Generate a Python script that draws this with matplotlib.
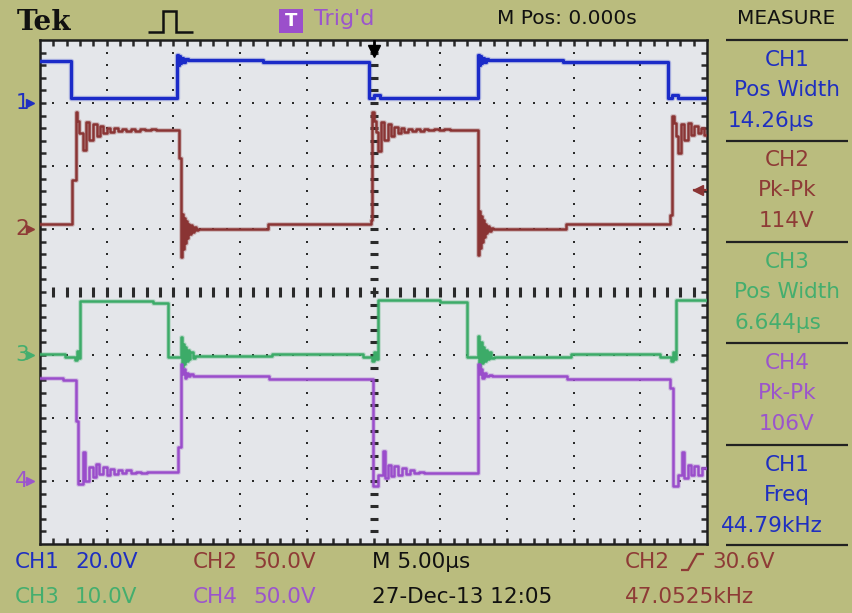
import numpy as np
import matplotlib
matplotlib.use("Agg")
import matplotlib.pyplot as plt
from matplotlib.lines import Line2D
from matplotlib.patches import Rectangle

# ---------------- data (time in µs, amplitude in V) ----------------
time_per_div = 5.0
ch_scale = {"CH1": 20.0, "CH2": 50.0, "CH3": 10.0, "CH4": 50.0}     # V/div
ch_ground_div = {"CH1": 7.0, "CH2": 5.0, "CH3": 3.0, "CH4": 1.0}   # ground marker position (div)

ch1_t = [-25.0, -22.7, -14.72, -14.64, -14.56, -14.48, -14.4, -14.3, -14.15, -13.9, -8.3,
         -0.35, 0.05, 0.5, 7.84, 7.92, 8.0, 8.08, 8.16, 8.26, 8.4, 8.6, 14.2, 22.1, 22.4, 22.8, 25.0]
ch1_v = [13.3, 1.7, 15.3, 12.2, 14.8, 12.6, 14.2, 12.9, 13.9, 13.6, 13.0,
         1.7, 2.5, 1.7, 15.3, 12.2, 14.8, 12.6, 14.2, 12.9, 13.9, 13.6, 12.9, 1.7, 2.5, 1.7, 1.7]

ch2_t = [-25.0, -22.6, -22.3, -22.2, -22.05, -21.8, -21.55, -21.3, -21.0, -20.75, -20.5, -20.25,
         -20.0, -19.75, -19.45, -19.15, -18.85, -18.55, -18.2, -17.85, -17.5, -17.1, -16.7, -16.3,
         -15.9, -14.55, -14.4, -14.33, -14.26, -14.19, -14.12, -14.05, -13.97, -13.89, -13.8,
         -13.7, -13.58, -13.45, -13.3, -13.15, -7.9,
         -0.2, -0.08, 0.02, 0.15, 0.35, 0.55, 0.8, 1.05, 1.3, 1.55, 1.8, 2.05, 2.3, 2.6, 2.9, 3.2,
         3.5, 3.8, 4.1, 4.5, 4.9, 5.3, 5.7, 7.84, 7.91, 7.98, 8.05, 8.12, 8.19, 8.27, 8.35, 8.44,
         8.54, 8.66, 8.8, 8.95, 14.4,
         22.2, 22.38, 22.5, 22.65, 22.85, 23.05, 23.3, 23.55, 23.8, 24.05, 24.3, 24.55, 24.8, 25.0]
ch2_v = [4.0, 38.9, 93.0, 86.0, 76.0, 62.5, 85.0, 71.0, 83.5, 74.0, 81.5, 76.0,
         80.5, 77.0, 80.0, 77.5, 79.5, 77.8, 79.5, 78.0, 79.3, 78.2, 79.0, 78.4,
         78.8, 56.0, -22.0, 12.0, -16.0, 9.0, -11.0, 6.0, -7.0, 4.0, -4.0,
         3.0, -2.0, 1.5, -0.5, 0.3, 4.0,
         7.0, 93.0, 86.0, 77.0, 62.0, 85.0, 71.0, 83.0, 74.0, 81.0, 76.0, 80.0, 77.0, 79.5, 77.5, 79.5,
         78.0, 79.5, 78.5, 79.3, 78.4, 79.2, 78.6, -21.0, 14.0, -15.0, 10.0, -10.0, 7.0, -6.0, 4.0, -3.5,
         2.5, -1.5, 1.0, 0.0, 4.0,
         11.0, 90.0, 84.0, 74.0, 60.0, 83.0, 71.0, 84.0, 75.0, 82.0, 76.0, 80.0, 75.0, 75.0]

ch3_t = [-25.0, -23.1, -22.4, -22.25, -22.1, -22.0, -16.5, -15.4, -14.45, -14.36, -14.28, -14.2,
         -14.12, -14.03, -13.94, -13.84, -13.72, -13.55, -13.35, -7.6,
         -0.8, -0.1, 0.05, 0.2, 0.34, 5.0, 7.0, 7.84, 7.93, 8.02, 8.11, 8.2, 8.3, 8.4, 8.52,
         8.65, 8.8, 9.0, 14.8, 21.5, 22.3, 22.45, 22.55, 22.7, 25.0]
ch3_v = [0.2, -0.3, -0.8, 0.6, -0.5, 8.6, 8.3, -0.3, 2.8, -1.9, 1.8, -1.4,
         1.2, -1.0, 0.8, -0.7, 0.4, -0.5, -0.2, 0.16,
         -0.3, -0.9, 0.5, -0.6, 8.7, 8.4, -0.3, 3.0, -1.9, 2.0, -1.3, 1.3, -0.9, 0.8, -0.6,
         0.4, -0.4, -0.3, 0.16, -0.3, -0.9, 0.5, -0.6, 8.7, 8.7]

ch4_t = [-25.0, -23.3, -22.3, -22.15, -21.8, -21.6, -21.35, -21.05, -20.8, -20.55, -20.3, -20.0,
         -19.75, -19.45, -19.15, -18.85, -18.55, -18.2, -17.8, -17.4, -17.0, -14.65, -14.45,
         -14.35, -14.25, -14.15, -14.05, -13.9, -13.75, -13.55, -7.8,
         -0.05, 0.3, 0.7, 0.85, 1.05, 1.3, 1.55, 1.8, 2.1, 2.4, 2.7, 3.0, 3.4, 3.8,
         7.85, 7.95, 8.05, 8.15, 8.3, 8.45, 8.65, 8.9, 14.5, 22.25, 22.45, 22.85, 23.15, 23.3,
         23.55, 23.8, 24.05, 24.3, 24.6, 25.0]
ch4_v = [81.8, 80.2, 47.6, -2.4, 23.0, 0.0, 11.0, 3.0, 13.5, 5.5, 11.0, 4.8,
         9.5, 5.5, 9.0, 6.0, 8.5, 6.5, 7.5, 6.5, 7.1, 27.0, 92.9,
         85.0, 89.0, 82.0, 86.0, 83.0, 85.0, 83.4, 81.0,
         -4.0, 5.0, 24.0, 2.0, 13.0, 4.0, 12.0, 5.0, 10.0, 5.5, 8.5, 6.0, 7.5, 6.3,
         93.0, 85.0, 89.0, 82.0, 86.0, 83.0, 84.5, 83.4, 80.8, 74.0, -4.0, 5.0, 23.0, 2.0,
         13.0, 5.0, 12.0, 5.0, 10.0, 10.0]

trigger_level_ch2 = 30.6  # V

header_texts = ["Tek", "Trig'd", "M Pos: 0.000s", "MEASURE"]
measure_labels = [("CH1", "Pos Width", "14.26µs"), ("CH2", "Pk-Pk", "114V"),
                  ("CH3", "Pos Width", "6.644µs"), ("CH4", "Pk-Pk", "106V"),
                  ("CH1", "Freq", "44.79kHz")]
scale_labels = [("CH1", "20.0V"), ("CH2", "50.0V"), ("CH3", "10.0V"), ("CH4", "50.0V")]
timebase_label = "M 5.00µs"
date_label = "27-Dec-13 12:05"
trig_source_label = ("CH2", "30.6V")
trig_freq_label = "47.0525kHz"

# ---------------- style ----------------
W, H = 852, 613
BG = "#babc7e"
SCREEN = "#e4e6ea"
C = {"CH1": "#1b2bc8", "CH2": "#8a3434", "CH3": "#3cab68", "CH4": "#9a4dcb"}
TXT_C = {"CH1": "#1f2fc0", "CH2": "#8e3b36", "CH3": "#44ae6e", "CH4": "#9b55cc"}
plt.rcParams['font.family'] = ['DejaVu Sans']

fig = plt.figure(figsize=(W / 100, H / 100), dpi=100)
fig.patch.set_facecolor(BG)


def fxy(x, y):
    return x / W, 1 - y / H


def ftext(x, y, s, color, size=15.5, ha="left", **kw):
    fig.text(x / W, 1 - y / H, s, color=color, fontsize=size, ha=ha, va="center", **kw)


def fline(xs, ys, color, lw=1.8):
    fig.add_artist(Line2D([x / W for x in xs], [1 - y / H for y in ys],
                          transform=fig.transFigure, color=color, lw=lw,
                          solid_capstyle="butt", solid_joinstyle="miter"))


L, R, T, B = 40, 707, 40, 544
ax = fig.add_axes([L / W, 1 - B / H, (R - L) / W, (B - T) / H])
ax.set_facecolor(SCREEN)
ax.set_xlim(-5 * time_per_div, 5 * time_per_div)
ax.set_ylim(0, 8)
ax.set_xticks([])
ax.set_yticks([])
for s in ax.spines.values():
    s.set_color("#1e1e1e")
    s.set_linewidth(1.8)

dot_c = "#2a2a2a"
xdots = np.arange(-24, 25, 1.0)
ydots = np.arange(0.2, 8, 0.2)
for k in range(1, 10):
    xg = -25 + 5 * k
    if k == 5:
        ax.plot(np.full_like(ydots, xg), ydots, ls="none", marker="_", ms=5.5, mew=2.2, color=dot_c, zorder=1)
    else:
        ax.plot(np.full_like(ydots, xg), ydots, ls="none", marker="s", ms=2.0, mew=0, color=dot_c, zorder=1)
for j in range(1, 8):
    if j == 4:
        ax.plot(xdots, np.full_like(xdots, j), ls="none", marker="|", ms=6.5, mew=2.2, color=dot_c, zorder=1)
    else:
        ax.plot(xdots, np.full_like(xdots, j), ls="none", marker="s", ms=2.0, mew=0, color=dot_c, zorder=1)
# border ticks
for xe in (-25, 25):
    ax.plot(np.full_like(ydots, xe), ydots, ls="none", marker="_", ms=9, mew=1.8, color=dot_c, zorder=1)
for ye in (0, 8):
    ax.plot(xdots, np.full_like(xdots, ye), ls="none", marker="|", ms=9, mew=1.8, color=dot_c, zorder=1)

# traces
traces = [("CH1", ch1_t, ch1_v), ("CH2", ch2_t, ch2_v), ("CH3", ch3_t, ch3_v), ("CH4", ch4_t, ch4_v)]
for name, t, v in traces:
    y = ch_ground_div[name] + np.asarray(v) / ch_scale[name]
    lw = 2.3 if name == "CH1" else 1.8
    ax.plot(t, y, drawstyle="steps-post", color=C[name], lw=lw + 1.6, alpha=0.25, zorder=3)
    ax.plot(t, y, drawstyle="steps-post", color=C[name], lw=lw, zorder=4)

# trigger level marker (CH2) at right edge
ytr = ch_ground_div["CH2"] + trigger_level_ch2 / ch_scale["CH2"]
ax.plot([24.0, 25.0], [ytr, ytr], color=C["CH2"], lw=1.6, zorder=5)
ax.plot([24.35], [ytr], marker="<", ms=7, color=C["CH2"], zorder=5)
# trigger position marker at top center
ax.plot([0, 0], [8.0, 7.85], color="black", lw=1.8, zorder=5)
ax.plot([0], [7.82], marker="v", ms=8, color="black", zorder=5)

# channel ground markers on the left
for name in ["CH1", "CH2", "CH3", "CH4"]:
    gy = ch_ground_div[name]
    ypx = B - gy * (B - T) / 8
    ftext(22, ypx, name[-1], TXT_C[name], size=15.5, ha="center")
    ax.plot([-25.75], [gy], marker=">", ms=5.5, color=TXT_C[name], clip_on=False, zorder=6)

# ---------------- header ----------------
fig.text(17 / W, 1 - 22 / H, header_texts[0], fontsize=20, fontweight="bold",
         family="DejaVu Serif", color="#111111", ha="left", va="center")
fline([148, 163, 163, 176, 176, 193], [32, 32, 11, 11, 32, 32], "#111111", lw=1.8)
fig.add_artist(Rectangle(fxy(279, 33), 24 / W, 24 / H, transform=fig.transFigure,
                         facecolor="#9b4fcb", edgecolor="none"))
ftext(291, 21, "T", "white", size=13, ha="center", fontweight="bold")
ftext(314, 19, header_texts[1], TXT_C["CH4"], size=16)
ftext(567, 19, header_texts[2], "#111111", size=14.5, ha="center")
ftext(786, 19, header_texts[3], "#111111", size=14.5, ha="center")

# ---------------- measure panel ----------------
sep_y = [40, 141, 242, 343, 445, 545]
for yy in sep_y:
    fline([726, 848], [yy, yy], "#222222", lw=1.6)
block_tops = [60, 160, 262, 363, 465]
value_x = [771, 787, 778, 787, 772]
block_ch = ["CH1", "CH2", "CH3", "CH4", "CH1"]
for (a, b, c), y0, vx, ch in zip(measure_labels, block_tops, value_x, block_ch):
    ftext(787, y0, a, TXT_C[ch], ha="center")
    ftext(787, y0 + 30, b, TXT_C[ch], ha="center")
    ftext(vx, y0 + 61, c, TXT_C[ch], ha="center")

# ---------------- bottom status ----------------
row1, row2 = 562, 597
pos = [(15, 75, row1), (193, 253, row1), (15, 75, row2), (193, 253, row2)]
for (ch, val), (x1, x2, yy) in zip(scale_labels, pos):
    ftext(x1, yy, ch, TXT_C[ch])
    ftext(x2, yy, val, TXT_C[ch])
ftext(372, row1, timebase_label, "#111111")
ftext(372, row2, date_label, "#111111")
ftext(625, row1, trig_source_label[0], TXT_C["CH2"])
fline([681, 688, 697, 704], [570, 570, 554, 554], TXT_C["CH2"], lw=1.6)
ftext(712, row1, trig_source_label[1], TXT_C["CH2"])
ftext(625, row2, trig_freq_label, TXT_C["CH2"])

fig.savefig("out.png", dpi=100, facecolor=BG)
